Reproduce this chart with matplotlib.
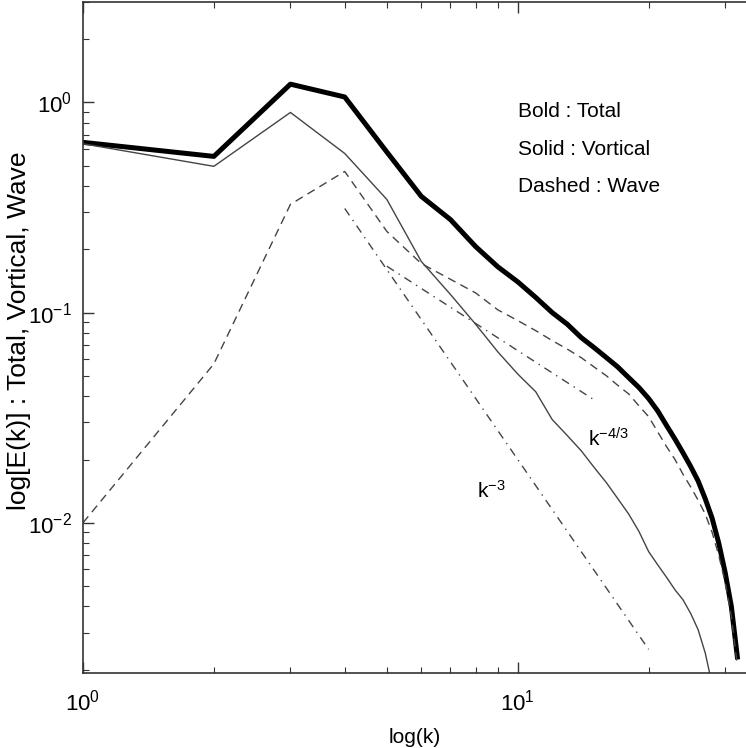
# Energy spectra: total, vortical and wave parts, log-log

import matplotlib
matplotlib.use("Agg")
import matplotlib.pyplot as plt
import matplotlib.ticker as mticker
import numpy as np

plt.rcParams['font.family'] = ['Liberation Sans', 'DejaVu Sans']
plt.rcParams['mathtext.default'] = 'regular'

# wavenumbers
k = np.arange(1, 33)

# total energy (bold)
total = [0.645, 0.553, 1.22, 1.06, 0.58, 0.357, 0.277, 0.206, 0.165, 0.140,
         0.118, 0.100, 0.088, 0.076, 0.068, 0.061, 0.055, 0.049, 0.044, 0.039,
         0.034, 0.029, 0.025, 0.0215, 0.0185, 0.0158, 0.013, 0.0105, 0.008, 0.0058,
         0.004, 0.0023]

# vortical energy (thin solid), runs off the bottom after k=27
k_vort = np.arange(1, 29)
vortical = [0.635, 0.496, 0.895, 0.571, 0.345, 0.175, 0.122, 0.088, 0.065, 0.051,
            0.042, 0.031, 0.026, 0.022, 0.0183, 0.0155, 0.013, 0.011, 0.0091, 0.0073,
            0.0063, 0.0055, 0.0048, 0.0043, 0.0037, 0.0031, 0.0024, 0.0017]

# wave energy (dashed)
wave = [0.0100, 0.057, 0.327, 0.469, 0.243, 0.171, 0.144, 0.124, 0.103, 0.0916,
        0.082, 0.0736, 0.067, 0.061, 0.055, 0.050, 0.045, 0.041, 0.036, 0.032,
        0.027, 0.023, 0.020, 0.0170, 0.0148, 0.0128, 0.011, 0.0090, 0.0070, 0.0052,
        0.0036, 0.0021]

# reference slopes
k3_range = np.array([4, 20])
k3_amp = 20.0
k43_range = np.array([5, 15])
k43_amp = 1.42

fig = plt.figure(figsize=(7.46, 7.48), dpi=100)
ax = fig.add_axes([83/746, 75/748, 663/746, 671/748])

ax.plot(k, total, color='black', lw=3.6)
ax.plot(k_vort, vortical, color='#444444', lw=1.0)
ax.plot(k, wave, color='#444444', lw=1.0, linestyle=(0, (6, 4)))
ax.plot(k3_range, k3_amp * k3_range**-3.0, color='#444444', lw=1.0,
        linestyle=(0, (6, 4, 1, 4)))
ax.plot(k43_range, k43_amp * k43_range**(-4/3), color='#444444', lw=1.0,
        linestyle=(0, (6, 4, 1, 4)))

ax.set_xscale('log')
ax.set_yscale('log')
ax.set_xlim(1, 33.5)
ax.set_ylim(1.93e-3, 3.0)

ax.xaxis.set_major_locator(mticker.LogLocator(base=10))
ax.xaxis.set_minor_locator(mticker.LogLocator(base=10, subs=np.arange(2, 10)))
ax.yaxis.set_major_locator(mticker.LogLocator(base=10))
ax.yaxis.set_minor_locator(mticker.LogLocator(base=10, subs=np.arange(2, 10)))
ax.xaxis.set_minor_formatter(mticker.NullFormatter())
ax.yaxis.set_minor_formatter(mticker.NullFormatter())

ax.tick_params(which='both', direction='in', top=True, right=False,
               labelsize=16, color='#333333')
ax.tick_params(which='major', length=8, width=1.0)
ax.tick_params(which='minor', length=4, width=0.8)
ax.tick_params(axis='x', which='major', pad=12)
ax.tick_params(axis='y', which='major', pad=8)

for side in ['left', 'bottom', 'top']:
    ax.spines[side].set_linewidth(1.2)
    ax.spines[side].set_color('#333333')
ax.spines['right'].set_visible(False)

ax.set_xlabel('log(k)', fontsize=15, labelpad=9)
ax.set_ylabel('log[E(k)] : Total, Vortical, Wave', fontsize=19)
ax.yaxis.set_label_coords(-0.078, 0.51)

ax.text(10, 0.906, 'Bold : Total', fontsize=15, va='center', ha='left')
ax.text(10, 0.597, 'Solid : Vortical', fontsize=15, va='center', ha='left')
ax.text(10, 0.398, 'Dashed : Wave', fontsize=15, va='center', ha='left')
ax.text(14.5, 0.025, '$k^{-4/3}$', fontsize=15, va='center', ha='left')
ax.text(8.07, 0.0142, '$k^{-3}$', fontsize=15, va='center', ha='left')

fig.savefig('out.png', dpi=100)
